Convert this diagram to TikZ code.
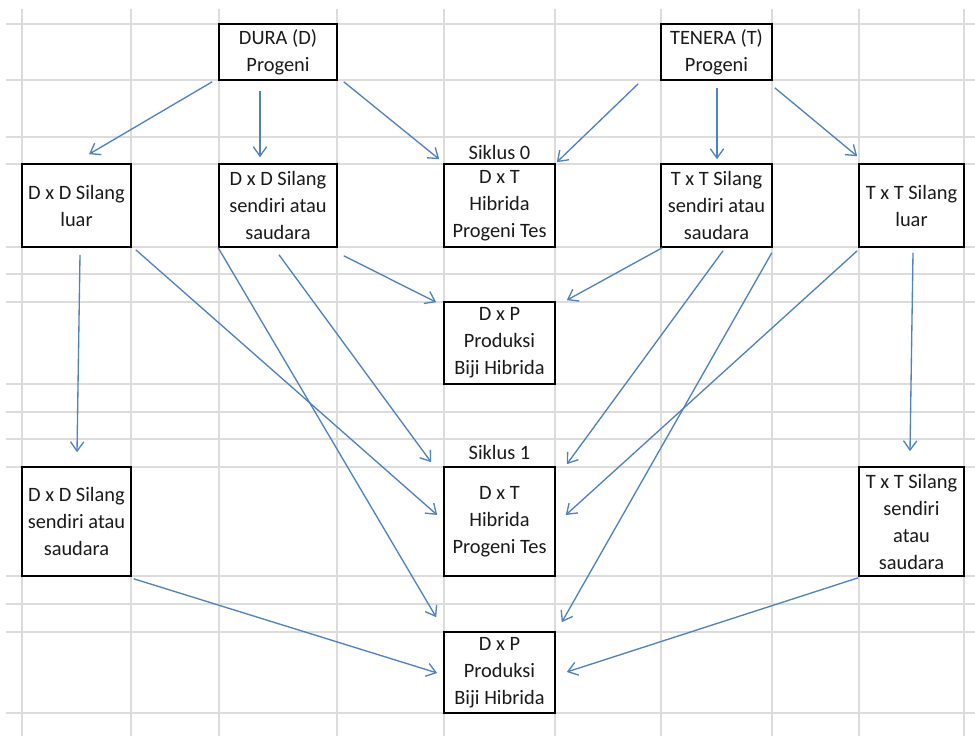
\documentclass[tikz,border=0pt]{standalone}
\usepackage{fontspec}
\setmainfont{Carlito}
\usetikzlibrary{arrows.meta}
\definecolor{gridc}{HTML}{DCDCDC}
\definecolor{arrc}{HTML}{5082C2}
\definecolor{txtc}{HTML}{1A1A1A}
\tikzset{
  every node/.style={font=\fontsize{15.3}{20.25}\selectfont, text=txtc},
  bx/.style 2 args={draw=black, line width=1.2pt, fill=white, inner sep=0pt, align=center,
     minimum width=#1*0.75pt, minimum height=#2*0.75pt},
  lbl/.style={inner sep=0pt, fill=white, inner xsep=1pt},
  arr/.style={draw=arrc, line width=1pt, -{Straight Barb[length=7pt,width=10pt,line width=1pt]}},
  gridl/.style={draw=gridc, line width=0.9pt}
}
\begin{document}
\begin{tikzpicture}[x=0.75pt,y=-0.75pt]
\useasboundingbox (0,0) rectangle (975,736);
\fill[white] (0,0) rectangle (975,736);
% spreadsheet grid
\foreach \gx in {22,131,219,337,444,555,661,772,859,964}
  \draw[gridl] (\gx,9) -- (\gx,736);
\foreach \gy in {24,80,137,164,247,274,302,384,412,439,467,576,604,632,713}
  \draw[gridl] (6,\gy) -- (975,\gy);
% boxes
\node[bx={118}{56}] (dura) at (278,52) {DURA (D)\\Progeni};
\node[bx={111}{56}] (tenera) at (716.5,52) {TENERA (T)\\Progeni};
\node[bx={109}{83}] (ddl) at (76.5,205.5) {D x D Silang\\luar};
\node[bx={118}{83}] (dds) at (278,205.5) {D x D Silang\\sendiri atau\\saudara};
\node[bx={111}{83}] (dt0) at (499.5,205.5) {D x T\\Hibrida\\Progeni Tes};
\node[bx={111}{83}] (tts) at (716.5,205.5) {T x T Silang\\sendiri atau\\saudara};
\node[bx={105}{83}] (ttl) at (911.5,205.5) {T x T Silang\\luar};
\node[bx={111}{82}] (dp1) at (499.5,343) {D x P\\Produksi\\Biji Hibrida};
\node[bx={109}{109}] (dds2) at (76.5,521.5) {D x D Silang\\sendiri atau\\saudara};
\node[bx={111}{109}] (dt1) at (499.5,521.5) {D x T\\Hibrida\\Progeni Tes};
\node[bx={105}{109}] (tts2) at (911.5,521.5) {T x T Silang\\sendiri\\atau\\saudara};
\node[bx={111}{81}] (dp2) at (499.5,672.5) {D x P\\Produksi\\Biji Hibrida};
% labels
\node[lbl] (sik0) at (499.5,152) {Siklus 0};
\node[lbl] (sik1) at (499.5,452) {Siklus 1};
% connectors
\draw[arr] ([shift={(-6,1)}]dura.south west) -- ([shift={(12.5,-9)}]ddl.north);
\draw[arr] ([shift={(-18,10)}]dura.south) -- ([shift={(-18,-6)}]dds.north);
\draw[arr] ([shift={(6,1)}]dura.south east) -- ([shift={(-4,-4)}]dt0.north west);
\draw[arr] ([shift={(-22,3)}]tenera.south west) -- ([shift={(1,-1)}]dt0.north east);
\draw[arr] ([shift={(0.5,7)}]tenera.south) -- ([shift={(0.5,-4)}]tts.north);
\draw[arr] ([shift={(2,7)}]tenera.south east) -- ([shift={(-1,-7)}]ttl.north west);
\draw[arr] ([shift={(3.5,7)}]ddl.south) -- ([shift={(0.5,-14)}]dds2.north);
\draw[arr] ([shift={(4,2)}]ddl.south east) -- ([shift={(-6,-6.5)}]dt1.west);
\draw[arr] ([shift={(0,0)}]dds.south west) -- ([shift={(-7,-14)}]dp2.north west);
\draw[arr] ([shift={(1,7)}]dds.south) -- ([shift={(-12,-4)}]dt1.north west);
\draw[arr] ([shift={(6,8)}]dds.south east) -- ([shift={(-7,1)}]dp1.north west);
\draw[arr] ([shift={(2,0)}]tts.south west) -- ([shift={(11,-1)}]dp1.north east);
\draw[arr] ([shift={(6.5,3)}]tts.south) -- ([shift={(11,-2)}]dt1.north east);
\draw[arr] ([shift={(-1,5)}]tts.south east) -- ([shift={(6,-9)}]dp2.north east);
\draw[arr] ([shift={(-1,3)}]ttl.south west) -- ([shift={(10,-6.5)}]dt1.east);
\draw[arr] ([shift={(1.5,5)}]ttl.south) -- ([shift={(-1.5,-15)}]tts2.north);
\draw[arr] ([shift={(2,2)}]dds2.south east) -- ([shift={(-6,0.5)}]dp2.west);
\draw[arr] ([shift={(0,1)}]tts2.south west) -- ([shift={(11,-0.5)}]dp2.east);
\end{tikzpicture}
\end{document}
